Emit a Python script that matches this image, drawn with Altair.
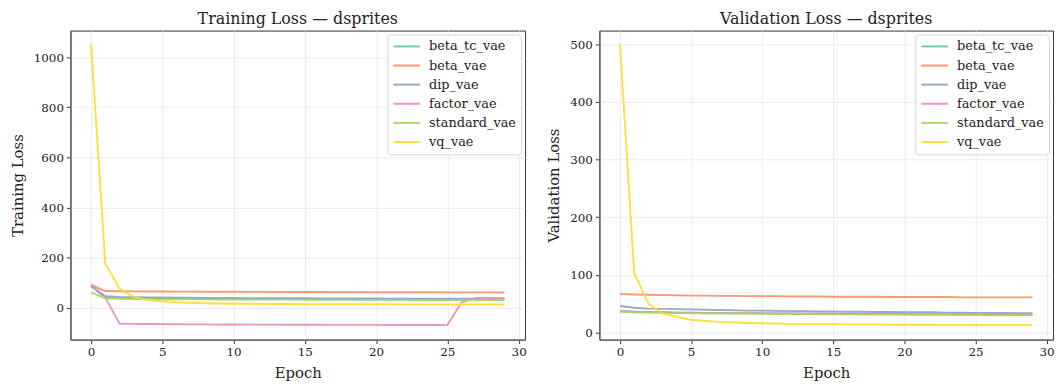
import altair as alt
import pandas as pd

epochs = list(range(30))
models = ["beta_tc_vae", "beta_vae", "dip_vae", "factor_vae", "standard_vae", "vq_vae"]
colors = ["#66c2a5", "#fc8d62", "#8da0cb", "#e78ac3", "#a6d854", "#ffd92f"]

# Training loss per model
train_beta_tc_vae = [85, 40, 37.5, 36.5, 36, 35.5, 35.5, 35, 35, 34.5, 34.5, 34.5, 34, 34, 34, 33.5, 33.5, 33.5, 33.5, 33, 33, 33, 33, 33, 32.5, 32.5, 32.5, 32.5, 32.5, 32.5]
train_beta_vae = [91, 66, 65, 64.5, 64, 64, 63.5, 63.5, 63, 63, 63, 62.5, 62.5, 62, 62, 62, 62, 61.5, 61.5, 61.5, 61, 61, 61, 61, 61, 60.5, 60.5, 60.5, 60.5, 60]
train_dip_vae = [88, 45, 42, 41, 40, 40, 39, 39, 38.5, 38, 38, 37.5, 37.5, 37, 37, 37, 36.5, 36.5, 36, 36, 36, 35.5, 35.5, 35.5, 35, 35, 35, 35, 34.5, 34.5]
train_factor_vae = [90, 40, -64, -65, -65.5, -66, -66.5, -67, -67, -67.5, -67.5, -68, -68, -68, -68.5, -68.5, -68.5, -69, -69, -69, -69, -69.5, -69.5, -69.5, -69.5, -70, 21, 38, 38, 37]
train_standard_vae = [61, 37, 35, 34, 33.5, 33, 33, 32.5, 32.5, 32, 32, 32, 31.5, 31.5, 31.5, 31, 31, 31, 31, 30.5, 30.5, 30.5, 30.5, 30, 30, 30, 30, 30, 30, 30]
train_vq_vae = [1050, 175, 75, 42, 30, 25, 21, 19, 17, 16, 15.5, 15, 14.5, 14, 14, 13.5, 13.5, 13, 13, 13, 13, 13, 12.5, 12.5, 12.5, 12.5, 12.5, 12, 12, 12]

# Validation loss per model
val_beta_tc_vae = [37, 36, 35.5, 35, 34.5, 34.5, 34, 34, 33.5, 33.5, 33, 33, 33, 32.5, 32.5, 32.5, 32, 32, 32, 32, 31.5, 31.5, 31.5, 31.5, 31, 31, 31, 31, 31, 31]
val_beta_vae = [67, 66, 65.5, 65, 64.5, 64, 64, 63.5, 63.5, 63, 63, 63, 62.5, 62.5, 62.5, 62, 62, 62, 62, 61.5, 61.5, 61.5, 61.5, 61.5, 61, 61, 61, 61, 61, 61]
val_dip_vae = [46, 43, 41.5, 41, 40.5, 40, 39.5, 39, 38.5, 38, 38, 37.5, 37, 37, 36.5, 36.5, 36, 36, 35.5, 35.5, 35, 35, 35, 34.5, 34.5, 34, 34, 34, 33.5, 33.5]
val_factor_vae = [38, 36, 35.5, 35, 34.5, 34.5, 34, 34, 33.5, 33.5, 33.5, 33, 33, 33, 33, 32.5, 32.5, 32.5, 32.5, 32.5, 32, 32, 32, 32, 32, 32, 32, 32, 32, 32]
val_standard_vae = [36, 35, 34.5, 34, 33.5, 33.5, 33, 33, 32.5, 32.5, 32.5, 32, 32, 32, 31.5, 31.5, 31.5, 31, 31, 31, 31, 30.5, 30.5, 30.5, 30.5, 30.5, 30, 30, 30, 30]
val_vq_vae = [500, 103, 50, 33, 27, 22, 20, 18.5, 17.5, 16.5, 16, 15.5, 15, 15, 14.5, 14.5, 14, 14, 14, 13.5, 13.5, 13.5, 13.5, 13, 13, 13, 13, 13, 13, 13]

x_ticks = [0, 5, 10, 15, 20, 25, 30]
train_y_ticks = [0, 200, 400, 600, 800, 1000]
val_y_ticks = [0, 100, 200, 300, 400, 500]


def long_df(series):
    rows = []
    for m, vals in zip(models, series):
        for e, v in zip(epochs, vals):
            rows.append({"epoch": e, "model": m, "loss": v})
    return pd.DataFrame(rows)


train_df = long_df([train_beta_tc_vae, train_beta_vae, train_dip_vae,
                    train_factor_vae, train_standard_vae, train_vq_vae])
val_df = long_df([val_beta_tc_vae, val_beta_vae, val_dip_vae,
                  val_factor_vae, val_standard_vae, val_vq_vae])

SERIF = "DejaVu Serif"


def panel(df, title, ytitle, ydomain, yticks, w):
    return alt.Chart(df).mark_line(strokeWidth=1.9, opacity=0.9).encode(
        x=alt.X("epoch:Q",
                scale=alt.Scale(domain=[-1.45, 30.45], nice=False, zero=False),
                axis=alt.Axis(values=x_ticks, title="Epoch", format="d", titlePadding=8)),
        y=alt.Y("loss:Q",
                scale=alt.Scale(domain=ydomain, nice=False, zero=False),
                axis=alt.Axis(values=yticks, title=ytitle, format="d")),
        color=alt.Color("model:N",
                        scale=alt.Scale(domain=models, range=colors),
                        legend=alt.Legend(title=None, orient="top-right")),
    ).properties(width=w, height=312, title=alt.Title(title))


left = panel(train_df, "Training Loss — dsprites", "Training Loss", [-128, 1106], train_y_ticks, 459)
right = panel(val_df, "Validation Loss — dsprites", "Validation Loss", [-12.4, 524], val_y_ticks, 458)

chart = alt.hconcat(left, right, spacing=19).resolve_legend(
    color="independent"
).properties(
    padding={"left": 1, "top": 0, "right": 0, "bottom": 0}
).configure_view(
    stroke="#333", strokeWidth=1
).configure_axis(
    grid=True, gridColor="#e6e6e6", gridWidth=0.8,
    domainColor="#666", domainWidth=1.4,
    tickColor="#333", tickSize=4, tickWidth=1,
    labelFont=SERIF, labelFontSize=12, labelColor="#222", labelPadding=3,
    titleFont=SERIF, titleFontSize=15, titleFontWeight="normal", titleColor="#222",
    titlePadding=8
).configure_title(
    font=SERIF, fontSize=16, fontWeight="normal", color="#222",
    anchor="middle", frame="group", offset=0
).configure_legend(
    labelFont=SERIF, labelFontSize=13, labelColor="#222",
    symbolType="stroke", symbolStrokeWidth=2, symbolSize=729,
    clipHeight=14, rowPadding=5.3,
    strokeColor="#d5d5d5", fillColor="white", padding=5, cornerRadius=3,
    offset=4, labelOffset=8
)

chart.save("out.html", embed_options={"renderer": "svg", "actions": False})
